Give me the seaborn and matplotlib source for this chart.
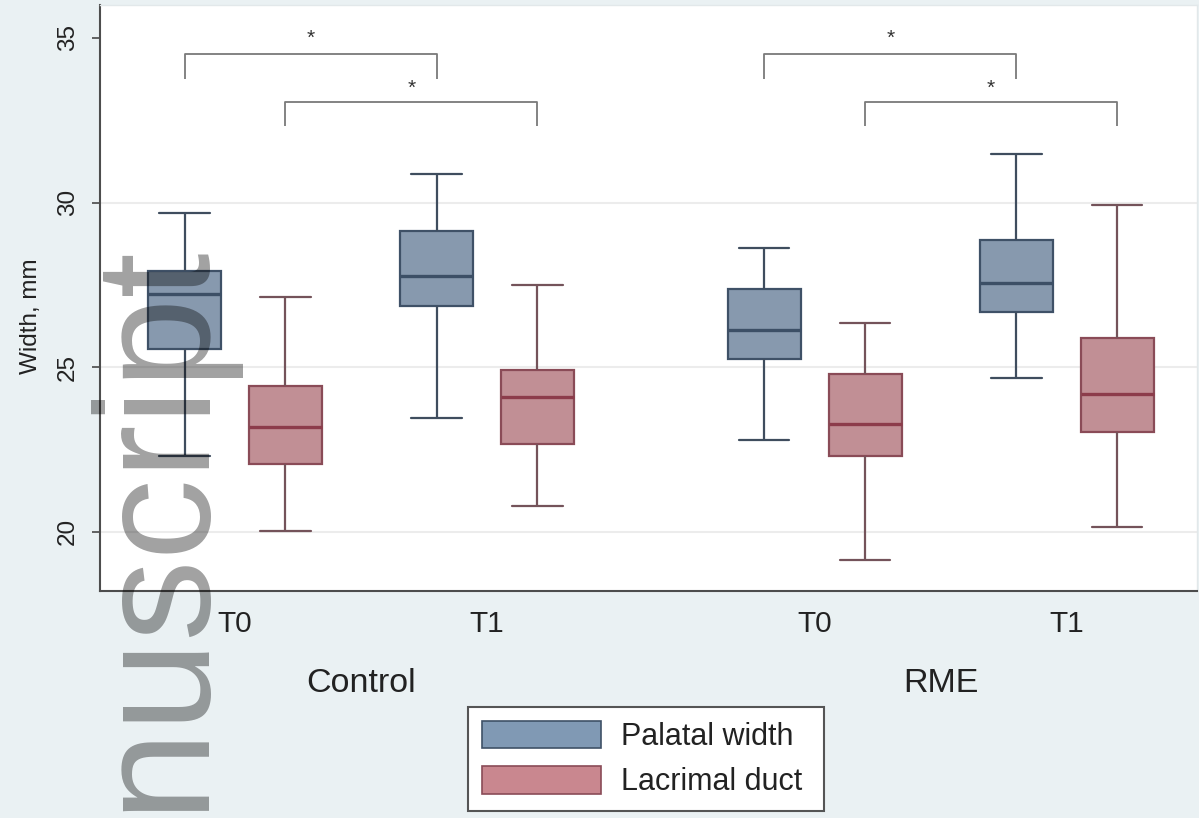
import numpy as np
import pandas as pd
import matplotlib
matplotlib.use("Agg")
import matplotlib.pyplot as plt
from matplotlib.patches import Patch
import seaborn as sns

# five-number summaries: [lower whisker, Q1, median, Q3, upper whisker]
groups = ["Control", "Control", "RME", "RME"]
times = ["T0", "T1", "T0", "T1"]
positions = [0.0, 1.0, 2.3, 3.3]

palatal_ctrl_t0 = [22.29, 25.56, 27.22, 27.93, 29.69]
palatal_ctrl_t1 = [23.44, 26.86, 27.78, 29.15, 30.88]
palatal_rme_t0 = [22.80, 25.24, 26.12, 27.37, 28.62]
palatal_rme_t1 = [24.68, 26.68, 27.57, 28.85, 31.47]

lacrimal_ctrl_t0 = [20.02, 22.05, 23.17, 24.42, 27.12]
lacrimal_ctrl_t1 = [20.79, 22.67, 24.10, 24.90, 27.50]
lacrimal_rme_t0 = [19.14, 22.29, 23.26, 24.78, 26.35]
lacrimal_rme_t1 = [20.13, 23.02, 24.19, 25.87, 29.94]

series = ["Palatal width", "Lacrimal duct"]
fill_colors = ["#8099b4", "#c9878f"]
edge_colors = ["#3f5167", "#8a4b57"]
median_colors = ["#3c4f66", "#8c3c4b"]
whisk_colors = ["#3f4d5e", "#74535a"]

# significance brackets: (group index a, group index b, series index)
brackets = [(0, 1, 0), (0, 1, 1), (2, 3, 0), (2, 3, 1)]
bracket_levels = [34.51, 33.06]
bracket_drop = 0.75
star_levels = [35.0, 33.48]

grid_vals = [20, 25, 30]
yticks = [20, 25, 30, 35]

pal = [palatal_ctrl_t0, palatal_ctrl_t1, palatal_rme_t0, palatal_rme_t1]
lac = [lacrimal_ctrl_t0, lacrimal_ctrl_t1, lacrimal_rme_t0, lacrimal_rme_t1]

rows = []
for name, vals_list in zip(series, [pal, lac]):
    for p, vals in zip(positions, vals_list):
        for v in vals:
            rows.append({"pos": p, "measure": name, "width": v})
df = pd.DataFrame(rows)

sns.set_style("white")
plt.rcParams["font.family"] = ["Liberation Sans", "DejaVu Sans"]

bg = "#eaf1f3"
fig = plt.figure(figsize=(11.99, 8.18), dpi=100, facecolor=bg)
ax = fig.add_axes([100 / 1199, 1 - 591 / 818, 1097 / 1199, 586 / 818])
ax.set_facecolor("white")

for g in grid_vals:
    ax.axhline(g, color="#ececec", lw=1.5, zorder=0)

sns.boxplot(data=df, x="pos", y="width", hue="measure", hue_order=series,
            native_scale=True, width=0.8, gap=0.275, whis=(0, 100),
            palette=fill_colors, linewidth=1.5, showfliers=False,
            capwidths=0.2, legend=False, ax=ax)

for cont, ec, mc, wc in zip(ax.containers, edge_colors, median_colors, whisk_colors):
    for b in cont.boxes:
        b.set_edgecolor(ec)
        b.set_linewidth(1.6)
    for ln in cont.medians:
        ln.set_color(mc)
        ln.set_linewidth(2.4)
    for ln in list(cont.whiskers) + list(cont.caps):
        ln.set_color(wc)
        ln.set_linewidth(1.6)

# brackets with stars
offsets = [-0.2, 0.2]
for a, b, s in brackets:
    x0 = positions[a] + offsets[s]
    x1 = positions[b] + offsets[s]
    yl = bracket_levels[s]
    ax.plot([x0, x0, x1, x1], [yl - bracket_drop, yl, yl, yl - bracket_drop],
            color="#7a7a7a", lw=1.3, solid_capstyle="butt")
    ax.text((x0 + x1) / 2, star_levels[s], "*", ha="center", va="center",
            fontsize=15, color="#333333")

ax.set_xlim(-0.536, 3.817)
ax.set_ylim(18.2, 36.0)
ax.set_yticks(yticks)
ax.set_yticklabels([str(t) for t in yticks], rotation=90, va="center")
ax.set_xticks(positions)
ax.set_xticklabels(times)
ax.tick_params(axis="x", length=0, pad=14, labelsize=21.5, labelcolor="#222222")
ax.tick_params(axis="y", length=6, width=1.3, color="#555555", pad=9,
               labelsize=17.5, labelcolor="#222222", left=True)
ax.set_xlabel("")
ax.set_ylabel("Width, mm", fontsize=17.5, color="#222222")
ax.yaxis.set_label_coords(-0.053, 0.469)

for side in ["left", "bottom"]:
    ax.spines[side].set_color("#4d4d4d")
    ax.spines[side].set_linewidth(1.5)
for side in ["top", "right"]:
    ax.spines[side].set_color("#e2e8ea")
    ax.spines[side].set_linewidth(1.0)

for gname in ["Control", "RME"]:
    xs = [p for p, g in zip(positions, groups) if g == gname]
    ax.text(np.mean(xs), -0.1724, gname, transform=ax.get_xaxis_transform(),
            ha="center", va="baseline", fontsize=24.5, color="#222222")

handles = [Patch(facecolor=fc, edgecolor=ec, linewidth=1.2, label=lab + " ")
           for fc, ec, lab in zip(fill_colors, edge_colors, series)]
leg = fig.legend(handles=handles, loc="upper left",
                 bbox_to_anchor=(468 / 1199, 1 - 707 / 818),
                 fontsize=22, frameon=True, fancybox=False, framealpha=1,
                 edgecolor="#555555", facecolor="white",
                 handlelength=3.9, handleheight=1.0, labelspacing=0.47,
                 handletextpad=0.65, borderpad=0.45, borderaxespad=0)
leg.get_frame().set_linewidth(1.5)
for t in leg.get_texts():
    t.set_color("#222222")

# watermark overlay
fig.text(197 / 1199, 1 - 238 / 818, "Manuscript", rotation=90, rotation_mode="anchor",
         ha="right", va="baseline", fontsize=117, color="black", alpha=0.37,
         zorder=10)

fig.savefig("out.png", dpi=100, facecolor=bg)
